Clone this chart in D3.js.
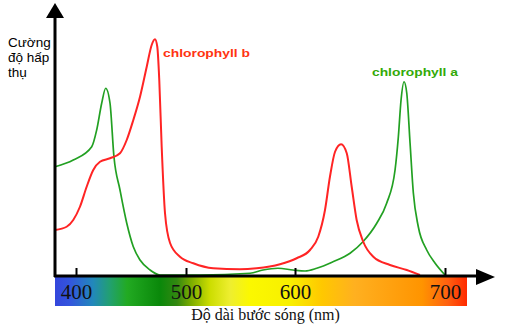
<!DOCTYPE html>
<html>
<head>
<meta charset="utf-8">
<script src="https://cdn.jsdelivr.net/npm/d3@7"></script>
<style>
  body { margin: 0; background: #fff; }
  svg { display: block; }
</style>
</head>
<body>
<svg id="chart" width="510" height="326"></svg>
<script>
// Wavelength ticks (nm)
const tickLabels = [400, 500, 600, 700];

// Relative absorption (0–100) by wavelength (nm)
const chlorophyllA = [
  [381, 43.3], [397.5, 46], [414.3, 51.3], [418.8, 58], [423.4, 68.8], [427, 74.7],
  [430.9, 68.8], [434.5, 47.3], [440, 34], [446.1, 20.8], [452.1, 11.3], [458.2, 6],
  [467.3, 2], [476.4, 0], [512.8, 0], [558.7, 0.7], [570.6, 2], [584.4, 2.7],
  [598.2, 2], [606.7, 1.6], [614.5, 2.7], [625.3, 5.3], [636.7, 8.7], [645.3, 13.3],
  [654.5, 20.7], [661.1, 28.7], [666.7, 42], [668.9, 55.3], [670.7, 70], [672.7, 77.3],
  [674.5, 72.8], [676.7, 52.8], [678.9, 32.8], [682.2, 19.3], [687.8, 10], [693.3, 4.8],
  [700, 0]
];

const chlorophyllB = [
  [381, 18], [391.5, 19.3], [397.5, 22], [403.6, 27.3], [409.7, 35.3], [415.7, 42],
  [421.8, 45.3], [430.9, 46.7], [440, 48.7], [446.1, 54], [452.1, 62], [458.2, 71.3],
  [464.3, 83.3], [468.8, 92], [471.8, 94.3], [473.9, 91.3], [475.7, 78], [477.9, 51.3],
  [480.9, 24.8], [485.5, 12.8], [494.5, 7.3], [506.7, 4.7], [525, 2.7], [549.5, 2.3],
  [564.8, 2.7], [586.2, 4.3], [601.1, 6.7], [610, 10], [615.5, 15.3], [620, 26],
  [623.3, 39.3], [626.7, 49.3], [630.7, 52.3], [634.5, 48.7], [637.8, 35.3], [641.1, 22],
  [645.5, 13.3], [652.2, 7.3], [663.3, 4], [674.5, 2], [683.3, 0]
];

const svg = d3.select("#chart");

// Wavelength axis is drawn with an uneven spacing between ticks
const x = d3.scaleLinear().domain(tickLabels).range([76, 186, 295, 445]);
const y = d3.scaleLinear().domain([0, 100]).range([275, 25]);

const axisY = 276;
const axisLeft = 55;

// Visible spectrum strip under the wavelength axis
const defs = svg.append("defs");
const grad = defs.append("linearGradient").attr("id", "spectrum")
  .attr("x1", "0%").attr("x2", "100%").attr("y1", "0%").attr("y2", "0%");
[
  [0, "#3446dc"], [0.036, "#3355dd"], [0.092, "#2288bb"], [0.133, "#22a070"],
  [0.175, "#22aa22"], [0.255, "#0a880a"], [0.296, "#338811"], [0.328, "#77aa00"],
  [0.376, "#ccdd00"], [0.425, "#eeee30"], [0.473, "#fbf800"], [0.57, "#f8f000"],
  [0.648, "#ffc800"], [0.728, "#ffb020"], [0.891, "#ff9400"], [0.954, "#ff6010"],
  [1, "#ff2a00"]
].forEach(([o, c]) => grad.append("stop").attr("offset", o).attr("stop-color", c));

svg.append("rect")
  .attr("x", axisLeft).attr("y", 277)
  .attr("width", 412).attr("height", 29)
  .attr("fill", "url(#spectrum)");

// Absorption curves
const line = d3.line()
  .x(d => x(d[0]))
  .y(d => y(d[1]))
  .curve(d3.curveMonotoneX);

svg.append("path").datum(chlorophyllA)
  .attr("d", line).attr("fill", "none")
  .attr("stroke", "#22a022").attr("stroke-width", 1.7);

svg.append("path").datum(chlorophyllB)
  .attr("d", line).attr("fill", "none")
  .attr("stroke", "#ff2424").attr("stroke-width", 2);

// Wavelength axis with ticks pointing up and labels on the spectrum strip
const xAxis = svg.append("g")
  .attr("transform", `translate(0,${axisY})`)
  .call(d3.axisBottom(x).tickValues(tickLabels).tickSizeInner(-8).tickSizeOuter(0).tickPadding(8));
xAxis.select(".domain").remove();
xAxis.selectAll(".tick line").attr("stroke", "#000").attr("stroke-width", 2);
xAxis.selectAll(".tick text")
  .attr("font-family", "'Liberation Serif', 'Times New Roman', serif")
  .attr("font-size", 21).attr("fill", "#111");

// Axis lines and arrowheads
svg.append("line")
  .attr("x1", axisLeft - 1).attr("x2", 480)
  .attr("y1", axisY).attr("y2", axisY)
  .attr("stroke", "#000").attr("stroke-width", 3);
svg.append("path")
  .attr("d", `M495,${axisY + 1}L476,${axisY - 7}L476,${axisY + 9}Z`)
  .attr("fill", "#000");

svg.append("line")
  .attr("x1", axisLeft).attr("x2", axisLeft)
  .attr("y1", axisY + 1).attr("y2", 16)
  .attr("stroke", "#000").attr("stroke-width", 3);
svg.append("path")
  .attr("d", `M${axisLeft},3L${axisLeft - 9},18L${axisLeft + 9},18Z`)
  .attr("fill", "#000");

// Axis titles
svg.append("text")
  .attr("x", 265.5).attr("y", 320)
  .attr("text-anchor", "middle")
  .attr("font-family", "'Liberation Serif', 'Times New Roman', serif")
  .attr("font-size", 16).attr("fill", "#111")
  .text("Độ dài bước sóng (nm)");

const yTitle = svg.append("text")
  .attr("font-family", "'Liberation Sans', Arial, sans-serif")
  .attr("font-size", 13.5).attr("fill", "#000");
["Cường", "độ hấp", "thụ"].forEach((t, i) => {
  yTitle.append("tspan").attr("x", 8).attr("y", 47.3 + i * 15).text(t);
});

// Series labels
svg.append("text")
  .attr("x", 163).attr("y", 57)
  .attr("font-family", "'Liberation Sans', Arial, sans-serif")
  .attr("font-weight", "bold").attr("font-size", 11.5)
  .attr("textLength", 87).attr("lengthAdjust", "spacingAndGlyphs")
  .attr("fill", "#ff3412")
  .text("chlorophyll b");

svg.append("text")
  .attr("x", 372).attr("y", 75.5)
  .attr("font-family", "'Liberation Sans', Arial, sans-serif")
  .attr("font-weight", "bold").attr("font-size", 11.5)
  .attr("textLength", 86).attr("lengthAdjust", "spacingAndGlyphs")
  .attr("fill", "#33aa08")
  .text("chlorophyll a");
</script>
</body>
</html>
